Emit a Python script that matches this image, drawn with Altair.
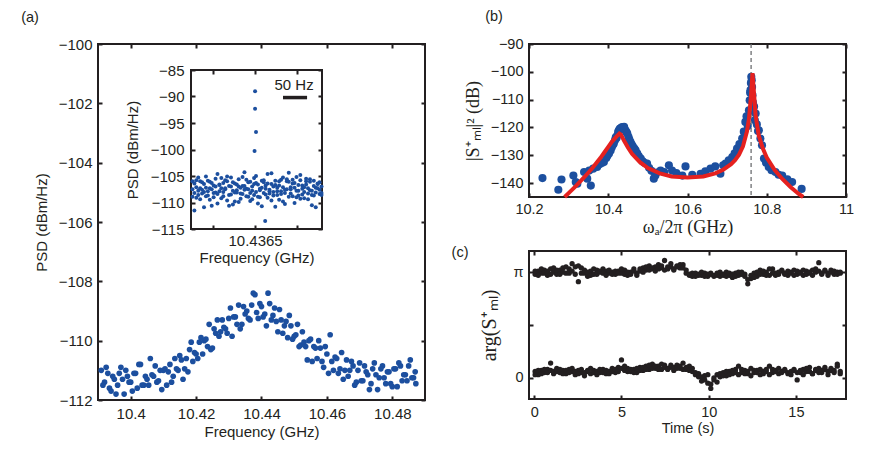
import altair as alt
import pandas as pd

SANS = "Liberation Sans"
SERIF = "Liberation Serif"
INK = "#231f20"
BLUE = "#1c4f9f"
RED = "#e5211f"
LW = 2

# ---------------- (a) main spectrum ----------------
a_freq_1 = [10.391, 10.392, 10.393, 10.394, 10.395, 10.396, 10.397, 10.398, 10.399, 10.400,
            10.401, 10.402, 10.403, 10.404, 10.405, 10.406, 10.407, 10.408, 10.409, 10.410,
            10.411, 10.412, 10.413, 10.414, 10.415, 10.416, 10.417, 10.418, 10.419, 10.420,
            10.421, 10.422, 10.423, 10.424, 10.425, 10.426, 10.427, 10.428, 10.429, 10.430,
            10.431, 10.432, 10.433, 10.434, 10.435, 10.436, 10.437, 10.438, 10.439, 10.440,
            10.441, 10.442, 10.443, 10.444, 10.445, 10.446, 10.447, 10.448, 10.449, 10.450,
            10.451, 10.452, 10.453, 10.454, 10.455, 10.456, 10.457, 10.458, 10.459, 10.460,
            10.461, 10.462, 10.463, 10.464, 10.465, 10.466, 10.467, 10.468, 10.469, 10.470,
            10.471, 10.472, 10.473, 10.474, 10.475, 10.476, 10.477, 10.478, 10.479, 10.480,
            10.481, 10.482, 10.483, 10.484, 10.485, 10.486, 10.487]
a_psd_1 = [-111.0, -111.4, -111.1, -111.7, -111.3, -111.5, -110.9, -111.8, -111.2, -111.4,
           -111.1, -111.6, -110.8, -111.5, -111.3, -110.6, -111.2, -111.4, -111.0, -111.0,
           -111.5, -110.8, -111.2, -110.95, -110.5, -111.3, -110.6, -110.3, -110.7, -110.45,
           -110.05, -110.45, -109.95, -109.45, -110.25, -109.75, -109.85, -109.3, -109.6, -109.25,
           -109.85, -109.2, -108.8, -109.45, -109.1, -109.25, -108.8, -108.45, -109.25, -108.85,
           -109.1, -108.4, -109.3, -108.9, -109.7, -109.3, -109.5, -109.9, -109.5, -109.85,
           -109.45, -110.15, -110.05, -110.65, -109.95, -110.2, -110.6, -110.25, -110.9, -110.45,
           -109.8, -111.0, -110.6, -110.95, -111.3, -110.65, -111.0, -110.85, -111.4, -110.75,
           -111.35, -111.05, -111.65, -110.95, -111.15, -111.25, -110.85, -111.45, -111.05, -111.55,
           -110.95, -110.75, -111.35, -111.15, -110.85, -111.25, -111.05]
a_freq_2 = [10.3915, 10.3925, 10.3935, 10.3945, 10.3955, 10.3965, 10.3975, 10.3985, 10.3995, 10.4005,
            10.4015, 10.4025, 10.4035, 10.4045, 10.4055, 10.4065, 10.4075, 10.4085, 10.4095, 10.4105,
            10.4115, 10.4125, 10.4135, 10.4145, 10.4155, 10.4165, 10.4175, 10.4185, 10.4195, 10.4205,
            10.4215, 10.4225, 10.4235, 10.4245, 10.4255, 10.4265, 10.4275, 10.4285, 10.4295, 10.4305,
            10.4315, 10.4325, 10.4335, 10.4345, 10.4355, 10.4365, 10.4375, 10.4385, 10.4395, 10.4405,
            10.4415, 10.4425, 10.4435, 10.4445, 10.4455, 10.4465, 10.4475, 10.4485, 10.4495, 10.4505,
            10.4515, 10.4525, 10.4535, 10.4545, 10.4555, 10.4565, 10.4575, 10.4585, 10.4595, 10.4605,
            10.4615, 10.4625, 10.4635, 10.4645, 10.4655, 10.4665, 10.4675, 10.4685, 10.4695, 10.4705,
            10.4715, 10.4725, 10.4735, 10.4745, 10.4755, 10.4765, 10.4775, 10.4785, 10.4795, 10.4805,
            10.4815, 10.4825, 10.4835, 10.4845, 10.4855, 10.4865, 10.4872]
a_psd_2 = [-111.5, -110.9, -111.6, -111.2, -111.8, -111.1, -111.3, -111.0, -111.4, -111.7,
           -111.1, -110.8, -111.5, -111.2, -111.5, -111.15, -110.85, -111.35, -111.65, -110.95,
           -111.05, -111.4, -110.6, -111.0, -110.65, -110.95, -111.05, -110.05, -110.4, -110.6,
           -109.9, -110.0, -110.2, -110.3, -109.6, -109.3, -109.7, -109.55, -109.75, -108.9,
           -109.2, -109.45, -109.6, -108.85, -109.0, -109.3, -108.4, -109.05, -108.75, -109.2,
           -109.5, -108.75, -109.15, -109.35, -108.95, -109.75, -109.35, -109.15, -109.95, -109.8,
           -110.2, -109.7, -110.2, -110.0, -110.7, -110.25, -110.0, -110.7, -110.2, -111.1,
           -110.7, -110.55, -111.1, -110.4, -111.0, -111.2, -110.7, -111.5, -111.0, -111.35,
           -110.85, -111.15, -111.45, -110.75, -111.65, -110.95, -111.25, -111.05, -111.45, -110.95,
           -111.55, -110.85, -111.15, -111.35, -110.65, -111.25, -111.45]

# ---------------- (a) inset (offset from 10.4365 GHz, in Hz) ----------------
inset_hz = [-130, -126, -122, -118, -114, -110, -106, -102, -98, -94, -90, -86, -82, -78,
            -74, -70, -66, -62, -58, -54, -50, -46, -42, -38, -34, -30, -26, -22, -18, -14,
            -10, -6, -2, 2, 6, 10, 14, 18, 22, 26, 30, 34, 38, 42, 46, 50, 54, 58, 62, 66,
            70, 74, 78, 82, 86, 90, 94, 98, 102, 106, 110, 114, 118, 122, 126, 130, 134, 138]
inset_psd_1 = [-106.0, -108.2, -107.1, -105.3, -109.4, -107.6, -106.5, -108.8, -105.9, -107.3,
               -110.6, -106.8, -108.1, -104.6, -107.9, -109.2, -106.3, -107.5, -105.1, -108.6,
               -107.0, -106.2, -109.8, -107.7, -105.6, -108.3, -106.9, -104.3, -107.4, -108.9,
               -106.1, -107.8, -105.4, -108.0, -106.6, -109.0, -107.2, -105.8, -108.5, -106.4,
               -107.6, -104.5, -108.7, -106.7, -107.9, -109.5, -105.7, -107.1, -108.2, -106.0,
               -104.4, -107.5, -108.8, -106.3, -105.2, -107.8, -109.3, -106.8, -108.0, -105.5,
               -107.3, -106.1, -108.6, -105.9, -107.2, -106.5, -108.4, -107.0]
inset_psd_2 = [-108.9, -106.4, -109.1, -107.8, -106.0, -108.3, -110.9, -107.2, -108.7, -106.1,
               -107.5, -109.0, -105.5, -108.4, -106.6, -107.3, -108.0, -105.8, -109.6, -106.9,
               -108.5, -110.4, -106.4, -108.1, -107.0, -109.3, -105.2, -107.6, -108.8, -106.2,
               -109.7, -107.0, -108.6, -106.3, -110.2, -107.4, -105.9, -108.2, -106.8, -109.1,
               -107.9, -106.5, -108.0, -110.8, -107.2, -106.0, -108.4, -109.8, -107.6, -105.6,
               -108.9, -107.1, -106.4, -110.1, -107.8, -108.7, -105.8, -107.4, -109.2, -106.6,
               -108.3, -107.7, -110.5, -106.9, -108.1, -107.3, -106.2, -108.6]
inset_psd_3 = [-107.5, -111.5, -105.8, -108.6, -107.3, -106.2, -108.0, -105.1, -107.9, -109.5,
               -106.3, -108.2, -107.0, -110.2, -106.7, -105.4, -108.8, -107.3, -106.0, -110.6,
               -105.3, -107.8, -108.1, -106.6, -109.9, -107.2, -108.4, -106.9, -105.7, -107.5,
               -108.2, -109.4, -106.5, -105.0, -108.9, -107.7, -110.7, -106.2, -107.4, -104.6,
               -108.3, -109.6, -107.0, -105.9, -108.6, -106.8, -107.9, -105.3, -110.3, -107.5,
               -106.1, -108.3, -105.7, -107.2, -109.0, -106.7, -104.8, -108.5, -107.1, -106.0,
               -109.4, -105.6, -107.8, -108.7, -110.9, -106.4, -107.6, -108.2]
inset_peak_hz = [0, 0, 2, -1, 21]
inset_peak_psd = [-89.0, -92.3, -96.7, -100.3, -113.5]
inset_hz_domain = [-133, 139]
inset_psd_domain = [-115, -85]
scalebar_hz = [58, 108]
scalebar_psd = -90.2
scalebar_label = "50 Hz"

# ---------------- (b) ----------------
b_w = [10.234, 10.274, 10.282, 10.312, 10.318, 10.322, 10.339, 10.347, 10.356, 10.352,
       10.362, 10.372, 10.378, 10.384, 10.389, 10.395, 10.398, 10.402, 10.406, 10.409,
       10.412, 10.414, 10.417, 10.419, 10.421, 10.423, 10.425, 10.427, 10.429, 10.431,
       10.433, 10.436, 10.438, 10.440, 10.442, 10.444, 10.446, 10.448, 10.451, 10.453,
       10.456, 10.459, 10.462, 10.466, 10.469, 10.473, 10.477, 10.482, 10.487, 10.492,
       10.498, 10.503, 10.509, 10.515, 10.519, 10.522, 10.532, 10.541, 10.553, 10.561,
       10.572, 10.587, 10.595, 10.612, 10.633, 10.645, 10.658, 10.670, 10.683, 10.690,
       10.696, 10.704, 10.713, 10.719, 10.725, 10.731, 10.738, 10.742, 10.746, 10.749,
       10.752, 10.755, 10.757, 10.758, 10.759, 10.760, 10.761, 10.762, 10.763, 10.764,
       10.765, 10.766, 10.768, 10.770, 10.772, 10.775, 10.778, 10.780, 10.784, 10.788,
       10.793, 10.798, 10.805, 10.812, 10.822, 10.830, 10.839, 10.852, 10.864, 10.888]
b_s = [-138.2, -142.4, -138.7, -137.3, -139.6, -140.2, -136.0, -138.4, -140.9, -135.5,
       -134.8, -134.2, -133.2, -132.8, -132.4, -131.0, -130.2, -129.4, -128.3, -127.1,
       -126.2, -125.8, -124.6, -123.5, -123.8, -122.8, -121.6, -121.0, -120.5, -120.4,
       -120.0, -119.9, -120.3, -119.8, -120.8, -121.2, -121.7, -122.2, -123.4, -124.3,
       -125.2, -126.1, -126.8, -127.6, -128.2, -129.3, -130.3, -131.2, -132.2, -132.8,
       -133.0, -134.5, -135.6, -138.4, -137.3, -136.2, -135.5, -136.0, -133.6, -135.5,
       -136.4, -137.3, -134.0, -137.0, -136.7, -135.8, -134.8, -134.0, -136.6, -133.6,
       -133.0, -131.8, -130.6, -129.3, -127.6, -126.0, -124.0, -121.5, -118.0, -116.0,
       -119.5, -113.8, -110.2, -107.5, -106.6, -104.0, -101.8, -103.0, -105.5, -108.4,
       -111.0, -114.2, -112.5, -117.4, -115.0, -118.9, -121.3, -121.0, -124.0, -126.4,
       -131.2, -132.6, -134.2, -135.4, -136.0, -137.0, -137.3, -138.6, -139.6, -142.1]
fit_w = [10.290, 10.300, 10.320, 10.340, 10.360, 10.380, 10.390, 10.400, 10.410, 10.420,
         10.428, 10.432, 10.440, 10.450, 10.460, 10.480, 10.500, 10.530, 10.560, 10.600,
         10.640, 10.670, 10.690, 10.710, 10.720, 10.730, 10.740, 10.750, 10.755, 10.760,
         10.764, 10.768, 10.772, 10.780, 10.790, 10.800, 10.820, 10.840, 10.860, 10.880,
         10.892]
fit_s = [-145.0, -143.6, -140.8, -137.8, -134.6, -131.0, -129.0, -127.0, -125.0, -123.4,
         -122.2, -122.6, -124.8, -127.3, -129.5, -132.5, -134.6, -136.5, -137.6, -138.0,
         -137.6, -136.5, -135.2, -133.2, -131.8, -129.8, -126.8, -121.5, -117.0, -109.0,
         -100.5, -108.0, -116.0, -123.0, -127.5, -130.8, -135.3, -138.6, -141.4, -143.8,
         -145.0]
b_marker_w = 10.7605

# ---------------- (c) ----------------
c_t = [0.05, 0.23, 0.41, 0.58, 0.76, 0.94, 1.11, 1.29, 1.47, 1.64, 1.82, 2.00, 2.17, 2.35,
       2.53, 2.70, 2.88, 3.06, 3.23, 3.41, 3.59, 3.76, 3.94, 4.12, 4.29, 4.47, 4.65, 4.82,
       5.00, 5.18, 5.35, 5.53, 5.71, 5.88, 6.06, 6.24, 6.41, 6.59, 6.77, 6.94, 7.12, 7.30,
       7.47, 7.65, 7.83, 8.00, 8.18, 8.36, 8.53, 8.71, 8.89, 9.06, 9.24, 9.42, 9.59, 9.77,
       9.95, 10.12, 10.30, 10.48, 10.65, 10.83, 11.01, 11.18, 11.36, 11.54, 11.71, 11.89,
       12.07, 12.24, 12.42, 12.60, 12.77, 12.95, 13.13, 13.30, 13.48, 13.66, 13.83, 14.01,
       14.19, 14.36, 14.54, 14.72, 14.89, 15.07, 15.25, 15.42, 15.60, 15.78, 15.95, 16.13,
       16.31, 16.48, 16.66, 16.84, 17.01, 17.19, 17.37, 17.54]
# phase in units of pi
c_top_1 = [0.98, 1.01, 0.99, 1.02, 0.97, 1.03, 1.00, 0.98, 1.02, 1.04, 0.99, 1.03, 1.08, 1.05,
           0.91, 1.04, 0.99, 0.96, 1.01, 0.98, 1.02, 1.00, 1.03, 1.01, 0.99, 1.00, 0.98, 1.01,
           0.99, 1.02, 0.97, 1.00, 1.03, 0.99, 1.01, 1.04, 1.02, 1.06, 1.03, 1.05, 1.07, 1.04,
           1.11, 1.03, 1.05, 1.02, 1.06, 1.04, 1.07, 1.02, 0.97, 0.99, 0.96, 0.98, 0.97, 0.99,
           0.96, 0.98, 0.97, 0.99, 0.96, 0.98, 1.00, 0.97, 0.95, 0.99, 0.97, 1.00, 0.98, 0.89,
           0.94, 0.99, 0.96, 1.02, 0.98, 1.00, 0.97, 1.03, 0.99, 0.98, 1.01, 0.99, 0.97, 1.00,
           1.02, 0.98, 1.00, 0.97, 1.01, 0.99, 1.02, 1.00, 1.09, 0.98, 1.01, 0.99, 1.02, 0.98,
           1.00, 0.99]
c_top_2 = [1.01, 0.97, 1.03, 0.99, 1.01, 0.98, 1.04, 1.02, 0.98, 1.00, 1.05, 0.99, 1.01, 0.98,
           1.06, 0.99, 1.02, 1.00, 0.97, 1.03, 0.98, 1.01, 0.99, 0.97, 1.02, 0.98, 1.01, 0.99,
           1.03, 0.98, 1.00, 0.98, 1.01, 0.97, 1.03, 1.00, 1.05, 1.02, 1.04, 1.01, 1.03, 1.06,
           1.02, 1.05, 1.08, 1.03, 1.05, 1.07, 1.04, 0.99, 0.98, 0.96, 0.99, 0.97, 1.00, 0.96,
           0.98, 0.99, 0.96, 0.97, 1.00, 0.97, 0.96, 0.99, 0.98, 0.96, 1.00, 0.98, 0.96, 0.93,
           0.97, 0.95, 1.00, 0.98, 1.01, 0.97, 1.03, 0.99, 0.97, 1.00, 1.02, 0.98, 1.01, 0.99,
           0.97, 1.01, 0.99, 1.02, 0.98, 1.00, 0.97, 1.03, 1.01, 0.99, 1.02, 0.97, 1.00, 1.01,
           0.98, 1.00]
c_bot_1 = [0.06, 0.03, 0.07, 0.05, 0.08, 0.14, 0.06, 0.09, 0.05, 0.07, 0.04, 0.08, 0.06, 0.03,
           0.07, 0.05, 0.02, 0.06, 0.04, 0.07, 0.03, 0.05, 0.08, 0.04, 0.06, 0.09, 0.05, 0.10,
           0.17, 0.07, 0.09, 0.06, 0.08, 0.05, 0.10, 0.07, 0.11, 0.08, 0.13, 0.09, 0.11, 0.08,
           0.12, 0.09, 0.10, 0.07, 0.12, 0.09, 0.14, 0.08, 0.11, 0.06, 0.03, 0.01, -0.03, 0.02,
           -0.05, -0.10, -0.02, 0.03, 0.01, 0.05, 0.02, 0.06, 0.04, 0.08, 0.11, 0.05, 0.07, 0.04,
           0.09, 0.05, 0.07, 0.03, 0.06, 0.08, 0.11, 0.05, 0.07, 0.04, 0.06, 0.08, 0.05, 0.03,
           0.07, -0.02, 0.05, 0.08, 0.06, 0.10, 0.04, 0.07, 0.09, 0.05, 0.08, 0.03, 0.07, 0.05,
           0.13, 0.04]
c_bot_2 = [0.03, 0.07, 0.04, 0.08, 0.05, 0.07, 0.04, 0.06, 0.08, 0.04, 0.07, 0.05, 0.09, 0.06,
           0.04, 0.08, 0.05, 0.07, 0.09, 0.05, 0.06, 0.08, 0.05, 0.07, 0.04, 0.06, 0.08, 0.06,
           0.09, 0.11, 0.06, 0.08, 0.05, 0.09, 0.07, 0.10, 0.08, 0.12, 0.09, 0.11, 0.08, 0.13,
           0.10, 0.08, 0.12, 0.10, 0.09, 0.11, 0.08, 0.10, 0.07, 0.09, 0.05, 0.04, 0.01, -0.02,
           0.03, -0.06, 0.00, -0.04, 0.04, 0.02, 0.06, 0.03, 0.07, 0.05, 0.03, 0.08, 0.04, 0.06,
           0.02, 0.07, 0.05, 0.08, 0.04, 0.06, 0.03, 0.08, 0.06, 0.09, 0.05, 0.07, 0.04, 0.06,
           0.08, 0.05, 0.07, 0.03, 0.09, 0.06, 0.04, 0.08, 0.05, 0.07, 0.10, 0.06, 0.09, 0.07,
           0.11, 0.06]

# ---------------- build tables ----------------
a_df = pd.DataFrame(
    [{"f": f, "psd": p} for f, p in zip(a_freq_1, a_psd_1)]
    + [{"f": f, "psd": p} for f, p in zip(a_freq_2, a_psd_2)]
)
inset_rows = []
for ys in (inset_psd_1, inset_psd_2, inset_psd_3):
    inset_rows += [{"hz": h, "psd": p} for h, p in zip(inset_hz, ys)]
inset_rows += [{"hz": h, "psd": p} for h, p in zip(inset_peak_hz, inset_peak_psd)]
inset_df = pd.DataFrame(inset_rows)
frame_df = pd.DataFrame([{"hz": inset_hz_domain[0], "hz2": inset_hz_domain[1],
                          "psd": inset_psd_domain[0], "psd2": inset_psd_domain[1]}])
bar_df = pd.DataFrame([{"hz": scalebar_hz[0], "hz2": scalebar_hz[1], "psd": scalebar_psd}])
bar_txt_df = pd.DataFrame([{"hz": sum(scalebar_hz) / 2 - 2, "psd": -87.8, "lab": scalebar_label}])
b_df = pd.DataFrame([{"w": w, "s": s} for w, s in zip(b_w, b_s)])
fit_df = pd.DataFrame({"w": fit_w, "s": fit_s})
mark_df = pd.DataFrame({"w": [b_marker_w]})
c_rows = []
for ys in (c_top_1, c_top_2, c_bot_1, c_bot_2):
    c_rows += [{"t": t, "ph": p} for t, p in zip(c_t, ys)]
c_df = pd.DataFrame(c_rows)

# ---------------- geometry ----------------
A_W, A_H = 327, 356
IN_X = [93, 224]
IN_Y = [185, 26]
B_W, B_H = 317, 153
C_W, C_H = 317, 148


def axis(title, values, dash, fs=15, lpad=6, tpad=4, tfont=SANS, tfs=None, grid=True, **kw):
    return alt.Axis(
        title=title, values=values, ticks=False, domain=False,
        grid=grid, gridDash=dash, gridColor="#231f20", gridOpacity=1, gridWidth=LW,
        labelFont=SANS, labelFontSize=fs, labelPadding=lpad,
        labelFlush=False, labelOverlap=False,
        titleFont=tfont, titleFontSize=tfs or fs,
        titleFontWeight="normal", titlePadding=tpad, **kw)


def panel_label(txt, dx, dy):
    return alt.Chart(pd.DataFrame({"lab": [txt]})).mark_text(fontSize=14.5).encode(
        x=alt.value(dx), y=alt.value(dy), text="lab:N")


# ---- panel (a) ----
a_x = alt.X("f:Q", scale=alt.Scale(domain=[10.39, 10.49], nice=False, zero=False),
            axis=axis("Frequency (GHz)", [10.40, 10.42, 10.44, 10.46, 10.48],
                      [4, A_H - 8, 4, 3000], lpad=6, tpad=3, format=".4~r"))
a_y = alt.Y("psd:Q", scale=alt.Scale(domain=[-112, -100], nice=False, zero=False),
            axis=axis("PSD (dBm/Hz)", [-112, -110, -108, -106, -104, -102, -100],
                      [4, A_W - 8, 4, 3000], lpad=6, tpad=9, format="d"))
a_main = alt.Chart(a_df).mark_circle(size=32, color=BLUE, opacity=1).encode(x=a_x, y=a_y)
a_group = alt.layer(a_main, panel_label("(a)", -68, -26))

in_x_scale = alt.Scale(domain=inset_hz_domain, range=IN_X, nice=False, zero=False)
in_y_scale = alt.Scale(domain=inset_psd_domain, range=IN_Y, nice=False, zero=False)
in_x = alt.X("hz:Q", scale=in_x_scale,
             axis=axis("Frequency (GHz)", [0], [4, 3000], lpad=4, tpad=2, grid=False,
                       orient="bottom", offset=-(A_H - IN_Y[0]),
                       labelExpr="'10.4365'"))
in_x_ticks = alt.X("hz:Q", scale=in_x_scale,
                   axis=axis(None, [-88, 0, 88], [4, (IN_Y[0] - IN_Y[1]) - 8, 4, 3000],
                             labels=False, orient="top", offset=-IN_Y[1]))
in_y = alt.Y("psd:Q", scale=in_y_scale,
             axis=axis("PSD (dBm/Hz)", [-115, -110, -105, -100, -95, -90, -85],
                       [4, (IN_X[1] - IN_X[0]) - 8, 4, 3000], lpad=7, tpad=10,
                       orient="left", offset=-IN_X[0], format="d"))
in_frame = alt.Chart(frame_df).mark_rect(fill="transparent", stroke="#231f20",
                                         strokeWidth=LW).encode(
    x=in_x, x2="hz2:Q", y=in_y, y2="psd2:Q")
in_pts = alt.Chart(inset_df).mark_circle(size=16, color=BLUE, opacity=1).encode(
    x=in_x_ticks, y=in_y)
in_bar = alt.Chart(bar_df).mark_rule(color=INK, strokeWidth=3.5).encode(
    x=in_x_ticks, x2="hz2:Q", y=in_y)
in_txt = alt.Chart(bar_txt_df).mark_text(fontSize=15).encode(
    x=in_x_ticks, y=in_y, text="lab:N")
inset = alt.layer(in_frame, alt.layer(in_pts, in_bar, in_txt)).resolve_axis(x="independent")

panel_a = alt.layer(a_group, inset).resolve_scale(x="independent", y="independent").properties(
    width=A_W, height=A_H)

# ---- panel (b) ----
b_x = alt.X("w:Q", scale=alt.Scale(domain=[10.2, 11.0], nice=False, zero=False),
            axis=axis("ωₐ/2π (GHz)", [10.2, 10.4, 10.6, 10.8, 11.0], [4, B_H - 8, 4, 3000],
                      fs=14.5, lpad=5, tpad=3, tfont=SERIF, tfs=18, format=".3~r"))
b_y = alt.Y("s:Q", scale=alt.Scale(domain=[-145, -90], nice=False, zero=False),
            axis=axis("|S⁺ₘₗ|² (dB)", [-140, -130, -120, -110, -100, -90], [4, B_W - 8, 4, 3000],
                      fs=14.5, lpad=6, tpad=8, tfont=SERIF, tfs=18, format="d"))
b_pts = alt.Chart(b_df).mark_circle(size=66, color=BLUE, opacity=1).encode(x=b_x, y=b_y)
b_rule = alt.Chart(mark_df).mark_rule(color="#6d6e71", strokeDash=[4, 3], strokeWidth=1.3).encode(
    x=b_x)
b_fit = alt.Chart(fit_df).mark_line(color=RED, strokeWidth=4).encode(x=b_x, y=b_y)
panel_b = alt.layer(b_pts, b_rule, b_fit, panel_label("(b)", -35, -27)).properties(
    width=B_W, height=B_H)

# ---- panel (c) ----
c_x = alt.X("t:Q", scale=alt.Scale(domain=[-0.3, 17.87], nice=False, zero=False),
            axis=axis("Time (s)", [0, 5, 10, 15], [4, C_H - 8, 4, 3000],
                      fs=14.5, lpad=6, tpad=3))
c_y = alt.Y("ph:Q", scale=alt.Scale(domain=[-0.2, 1.2], nice=False, zero=False),
            axis=axis("arg(S⁺ₘₗ)", [0, 0.5, 1], [4, C_W - 8, 4, 3000],
                      fs=14.5, lpad=6, tpad=13, tfont=SERIF, tfs=20,
                      labelExpr="datum.value == 0 ? '0' : (datum.value == 1 ? 'π' : '')"))
c_pts = alt.Chart(c_df).mark_circle(size=28, color=INK, opacity=1).encode(x=c_x, y=c_y)
panel_c = alt.layer(c_pts, panel_label("(c)", -69, 2)).properties(width=C_W, height=C_H)

right = alt.vconcat(panel_b, panel_c, spacing=54, bounds="flush")
chart = alt.hconcat(panel_a, right, spacing=24).properties(
    padding={"left": 12, "top": 0, "right": 0, "bottom": 0}
).configure_view(stroke="#231f20", strokeWidth=LW).configure_axis(
    labelColor=INK, titleColor=INK).configure_text(font=SANS, color=INK)

chart.save("out.html", embed_options={"renderer": "svg", "actions": False})
